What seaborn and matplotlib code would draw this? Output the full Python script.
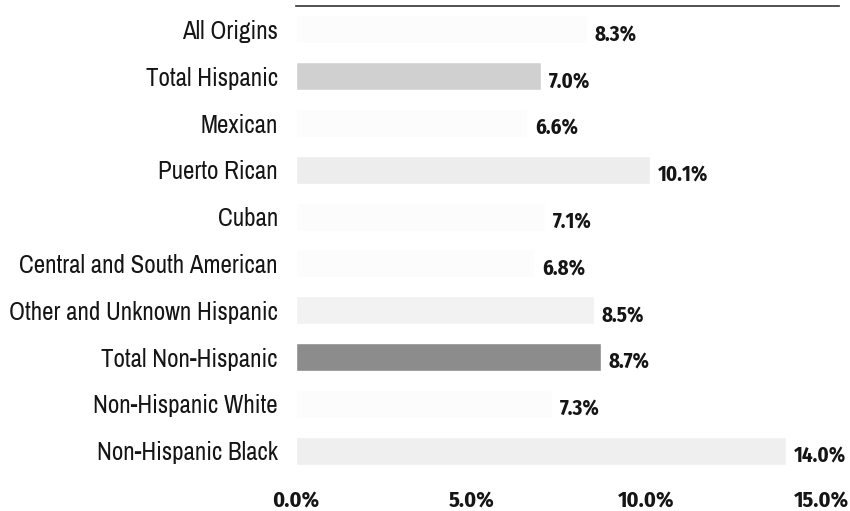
import pandas as pd
import matplotlib.pyplot as plt
import seaborn as sns

# Chart values.
groups = ["All Origins", "Total Hispanic", "Mexican", "Puerto Rican", "Cuban",
          "Central and South American", "Other and Unknown Hispanic",
          "Total Non-Hispanic", "Non-Hispanic White", "Non-Hispanic Black"]
rates = [8.3, 7.0, 6.6, 10.1, 7.1, 6.8, 8.5, 8.7, 7.3, 14.0]
bar_shades = ["#fcfcfc", "#d0d0d0", "#fcfcfc", "#ededed", "#fcfcfc",
              "#fcfcfc", "#f2f2f2", "#8c8c8c", "#fcfcfc", "#efefef"]
x_ticks = [0, 5, 10, 15]

data = pd.DataFrame({"group": groups, "rate": rates})

sns.set_style("white")
# condensed gothic face like the scan
plt.rcParams["font.family"] = ["Archivo Narrow", "DejaVu Sans"]
bold_family = ["Fira Sans Condensed", "Archivo Narrow", "DejaVu Sans"]

fig = plt.figure(figsize=(8.5, 5.11), dpi=100)
ax = fig.add_axes([296 / 850, 1 - 474 / 511, (839 - 296) / 850, (474 - 6) / 511])

sns.barplot(data=data, x="rate", y="group", hue="group",
            palette=dict(zip(groups, bar_shades)), legend=False,
            orient="h", width=0.6, ax=ax)

# Value labels right of each bar.
for i, v in enumerate(rates):
    ax.text(v + 0.22, i + 0.1, f"{v:.1f}%", va="center", ha="left",
            fontsize=15, fontweight="bold", family=bold_family, color="#151515")

ax.set_xlim(0, 15.5)
ax.set_ylim(9.5, -0.5)
ax.set_xticks(x_ticks)
ax.set_xticklabels([f"{t:.1f}%" for t in x_ticks], fontsize=16, fontweight="bold",
                   family=bold_family)
ax.tick_params(axis="x", length=0, pad=11, colors="#151515")
ax.tick_params(axis="y", length=0, pad=13, labelsize=18, colors="#151515")
ax.set_xlabel("")
ax.set_ylabel("")

for side in ["left", "right", "bottom"]:
    ax.spines[side].set_visible(False)
ax.spines["top"].set_color("#333333")
ax.spines["top"].set_linewidth(1.2)

plt.savefig("out.png", dpi=100)
